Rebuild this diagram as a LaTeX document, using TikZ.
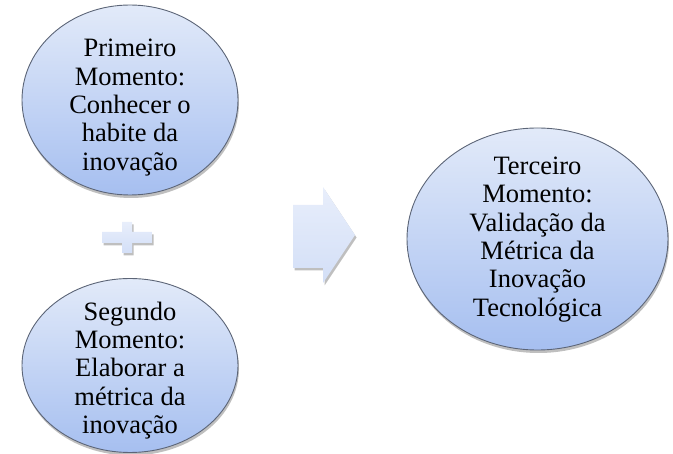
\documentclass[tikz,border=0pt]{standalone}
\usepackage{fontspec}
\setmainfont{Liberation Serif}
\usetikzlibrary{shapes.geometric,shadows}
\definecolor{outl}{HTML}{5C6577}
\definecolor{topb}{HTML}{E2EAF9}
\definecolor{botb}{HTML}{A6BFF0}
\definecolor{lt}{HTML}{E8EEFB}
\definecolor{lb}{HTML}{D3DFF7}
\tikzset{
  moment/.style={ellipse, draw=outl, line width=0.9pt, top color=topb, bottom color=botb,
    inner sep=0pt,
    drop shadow={shadow xshift=1pt, shadow yshift=-3pt, fill=black, opacity=0.25}},
  label text/.style={align=center, inner sep=0pt, font=\fontsize{26.5}{28.3}\selectfont},
  sym/.style={draw=none, top color=lt, bottom color=lb,
    drop shadow={shadow xshift=1.5pt, shadow yshift=-2.5pt, fill=black, opacity=0.25}}
}
\begin{document}
\begin{tikzpicture}[x=1pt,y=-1pt]
\useasboundingbox (0,0) rectangle (673,454);
\node[moment, minimum width=216pt, minimum height=190pt] (m1) at (130,100) {};
\node[moment, minimum width=216pt, minimum height=174pt] (m2) at (130,365.5) {};
\node[moment, minimum width=261pt, minimum height=222pt] (m3) at (537.5,239) {};
\node[label text] (t1) at (130,107.5)
  {Primeiro\\Momento:\\Conhecer o\\habite da\\inova\c{c}\~ao};
\node[label text] (t2) at (130,370.5)
  {Segundo\\Momento:\\Elaborar a\\m\'etrica da\\inova\c{c}\~ao};
\node[label text] (t3) at (537.5,239.5)
  {Terceiro\\Momento:\\Valida\c{c}\~ao da\\M\'etrica da\\Inova\c{c}\~ao\\Tecnol\'ogica};
% plus
\path[sym] (102,232) -- (122,232) -- (122,222) -- (132,222) -- (132,232) -- (152,232)
  -- (152,243) -- (132,243) -- (132,253) -- (122,253) -- (122,243) -- (102,243) -- cycle;
% arrow
\path[sym] (293,205) -- (323,205) -- (323,187) -- (355,235) -- (323,283) -- (323,268)
  -- (293,268) -- cycle;
\end{tikzpicture}
\end{document}
